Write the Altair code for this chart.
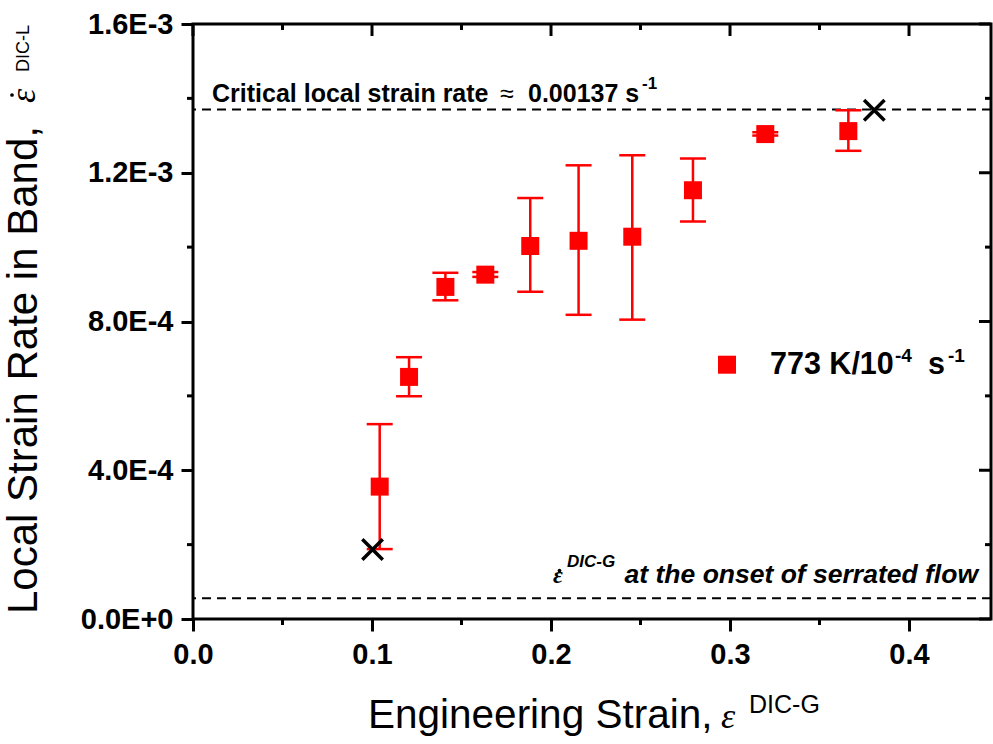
import altair as alt
import pandas as pd

# ---- data ----
strain = [0.1043, 0.1207, 0.1410, 0.1633, 0.1884, 0.2154, 0.2454, 0.2793, 0.3197, 0.3661]
rate = [3.56e-4, 6.51e-4, 8.93e-4, 9.26e-4, 1.003e-3, 1.017e-3, 1.028e-3, 1.153e-3, 1.304e-3, 1.312e-3]
err_lo = [1.88e-4, 5.99e-4, 8.57e-4, 9.20e-4, 8.80e-4, 8.18e-4, 8.05e-4, 1.069e-3, 1.300e-3, 1.259e-3]
err_hi = [5.24e-4, 7.04e-4, 9.31e-4, 9.33e-4, 1.132e-3, 1.220e-3, 1.247e-3, 1.238e-3, 1.309e-3, 1.368e-3]
cross_x = [0.1003, 0.3806]
cross_y = [1.87e-4, 1.368e-3]
ref_levels = [0.00137, 5.6e-5]

x_major = [0.0, 0.1, 0.2, 0.3, 0.4]
x_minor = [0.05, 0.15, 0.25, 0.35]
y_major = [0.0, 0.0004, 0.0008, 0.0012, 0.0016]
y_minor = [0.0002, 0.0006, 0.0010, 0.0014]

W, H = 798, 595
XMAX = 0.4458
RED = "#ff0000"
SANS = "Liberation Sans"
SERIF = "Liberation Serif"

df = pd.DataFrame({"strain": strain, "rate": rate, "lo": err_lo, "hi": err_hi})
cross_df = pd.DataFrame({"x": cross_x, "y": cross_y})
lvl_df = pd.DataFrame({"y": ref_levels})
xmaj_df = pd.DataFrame({"x": x_major})
xmin_df = pd.DataFrame({"x": x_minor})
ymaj_df = pd.DataFrame({"y": y_major})
ymin_df = pd.DataFrame({"y": y_minor})
dummy = pd.DataFrame({"a": [0]})

xscale = alt.Scale(domain=[0, XMAX], nice=False, zero=False)
yscale = alt.Scale(domain=[0, 0.0016], nice=False, zero=False)

xaxis = alt.Axis(values=x_major, format=".1f", title=None, domain=False, grid=False,
                 tickSize=12, tickWidth=3, tickColor="black",
                 labelFont=SANS, labelFontWeight="bold", labelFontSize=29,
                 labelColor="black", labelPadding=9, labelFlush=False, labelOverlap=False)
yaxis = alt.Axis(values=y_major, labelExpr="upper(format(datum.value, '.1e'))", title=None,
                 domain=False, grid=False, tickSize=12, tickWidth=3, tickColor="black",
                 labelFont=SANS, labelFontWeight="bold", labelFontSize=29,
                 labelColor="black", labelPadding=8, labelFlush=False, labelOverlap=False)


def X(f):
    return alt.X(f, type="quantitative", scale=xscale, axis=xaxis)


def Y(f):
    return alt.Y(f, type="quantitative", scale=yscale, axis=yaxis)


# reference dashed lines
dashed = alt.Chart(lvl_df).mark_rule(color="black", strokeWidth=2, strokeDash=[9, 6]).encode(y=Y("y"))

# error bars
bars = alt.Chart(df).mark_rule(color=RED, strokeWidth=2.5).encode(x=X("strain"), y=Y("lo"), y2="hi")
cap_lo = alt.Chart(df).mark_tick(orient="horizontal", size=26, thickness=2.5, color=RED, opacity=1).encode(
    x=X("strain"), y=Y("lo"))
cap_hi = alt.Chart(df).mark_tick(orient="horizontal", size=26, thickness=2.5, color=RED, opacity=1).encode(
    x=X("strain"), y=Y("hi"))
squares = alt.Chart(df).mark_point(shape="square", filled=True, size=324, color=RED, opacity=1).encode(
    x=X("strain"), y=Y("rate"))
crosses = alt.Chart(cross_df).mark_point(shape="M-1,-1L1,1M-1,1L1,-1", filled=False, size=420,
                                         stroke="black", strokeWidth=3.5, opacity=1).encode(
    x=X("x"), y=Y("y"))

# extra ticks (minor / mirrored)
tk = dict(color="black", strokeWidth=3)
top_major = alt.Chart(xmaj_df).mark_rule(**tk).encode(x=X("x"), y=alt.value(0), y2=alt.value(12))
top_minor = alt.Chart(xmin_df).mark_rule(**tk).encode(x=X("x"), y=alt.value(0), y2=alt.value(6))
bot_minor = alt.Chart(xmin_df).mark_rule(**tk).encode(x=X("x"), y=alt.value(H), y2=alt.value(H + 6))
right_major = alt.Chart(ymaj_df).mark_rule(**tk).encode(y=Y("y"), x=alt.value(W - 12), x2=alt.value(W))
right_minor = alt.Chart(ymin_df).mark_rule(**tk).encode(y=Y("y"), x=alt.value(W - 6), x2=alt.value(W))
left_minor = alt.Chart(ymin_df).mark_rule(**tk).encode(y=Y("y"), x=alt.value(-6), x2=alt.value(0))


def label(text, x, y, size, weight="bold", style="normal", font=SANS, align="left", angle=0):
    return alt.Chart(dummy).mark_text(text=text, font=font, fontSize=size, fontWeight=weight,
                                      fontStyle=style, align=align, baseline="alphabetic",
                                      angle=angle, color="black").encode(
        x=alt.value(x), y=alt.value(y))


def dot(x, y, size=14):
    return alt.Chart(dummy).mark_point(shape="circle", filled=True, size=size, color="black",
                                       opacity=1).encode(x=alt.value(x), y=alt.value(y))


texts = [
    # critical strain rate annotation
    label("Critical local strain rate", 19, 78, 25),
    label("\u2248", 307, 78, 25, weight="normal"),
    label("0.00137 s", 335, 78, 25),
    label("-1", 449, 65, 17),
    # onset annotation
    label("\u03b5", 360, 559, 24, weight="bold", style="italic", font=SERIF),
    dot(366.5, 546.5),
    label("DIC-G", 374, 543, 17, weight="bold", style="italic"),
    label("at the onset of serrated flow", 785, 559, 26.5, style="italic", align="right"),
    # legend
    label("773 K/10", 577, 350, 30.5),
    label("-4", 702, 338, 19),
    label("s", 735, 350, 30.5),
    label("-1", 755, 338, 19),
    # x title
    label("Engineering Strain,", 175, 704, 40.5, weight="normal"),
    label("\u03b5", 528, 704, 36, weight="normal", style="italic", font=SERIF),
    label("DIC-G", 556, 689, 25, weight="normal"),
    # y title
    label("Local Strain Rate in Band,", -156, 590, 42, weight="normal", angle=270),
    label("\u03b5", -158, 79, 36, weight="normal", style="italic", font=SERIF, angle=270),
    dot(-181, 71),
    label("DIC-L", -164, 48, 18, weight="normal", angle=270),
]

legend_sq = alt.Chart(dummy).mark_point(shape="square", filled=True, size=324, color=RED, opacity=1).encode(
    x=alt.value(534), y=alt.value(340.7))

chart = alt.layer(
    dashed, bars, cap_lo, cap_hi, squares, crosses,
    top_major, top_minor, bot_minor, right_major, right_minor, left_minor,
    legend_sq, *texts
).properties(
    width=W, height=H,
    padding={"left": 193, "top": 24, "right": 2, "bottom": 125},
    autosize=alt.AutoSizeParams(type="none"),
    background="white",
).configure_view(stroke="black", strokeWidth=3)

chart.save("out.html", embed_options={"renderer": "svg", "actions": False})
